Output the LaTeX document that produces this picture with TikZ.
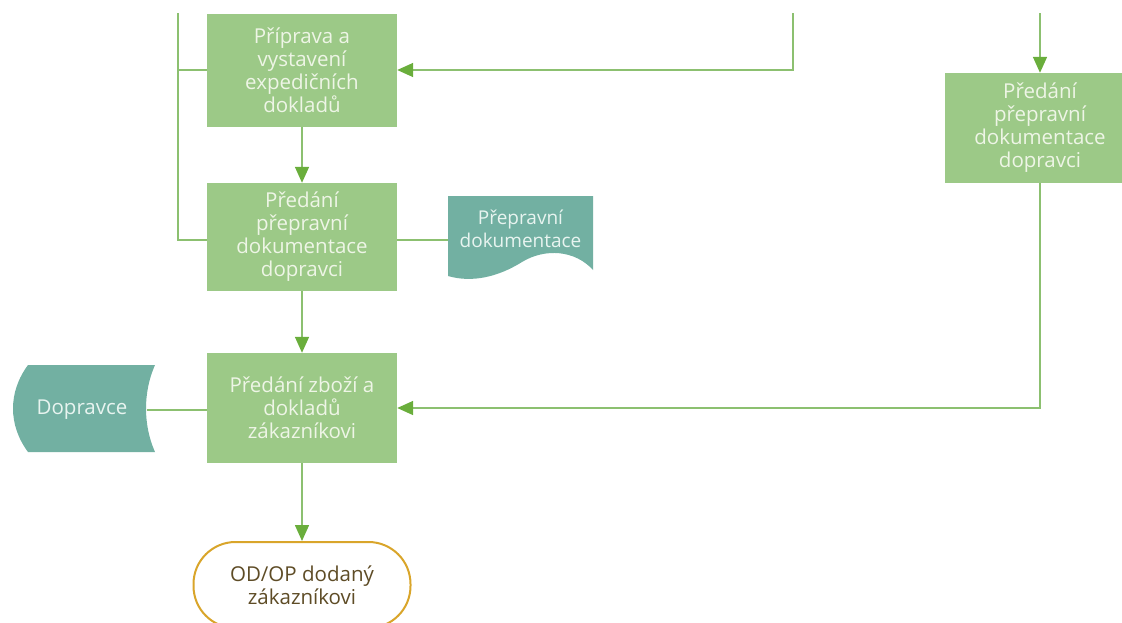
\documentclass[tikz,border=0pt]{standalone}
\usepackage{fontspec}
\setmainfont{Open Sans}
\usetikzlibrary{arrows.meta}
\definecolor{boxgreen}{HTML}{9CC987}
\definecolor{boxtext}{HTML}{EEF5E6}
\definecolor{linegreen}{HTML}{8CC070}
\definecolor{tipgreen}{HTML}{6AAE3C}
\definecolor{teal}{HTML}{72B0A2}
\definecolor{tealtext}{HTML}{E8F4F0}
\definecolor{gold}{HTML}{D9A52A}
\definecolor{termtext}{HTML}{5E4C26}
\tikzset{
  procbox/.style={rectangle, fill=boxgreen, text=boxtext, minimum width=190pt,
    align=center, inner sep=0pt,
    font=\fontsize{20.5pt}{23pt}\selectfont},
  link/.style={draw=linegreen, line width=1.6pt},
  flow/.style={link, -{Triangle[length=16pt,width=14pt,color=tipgreen]}},
  lbl/.style={align=center, font=\fontsize{20.5pt}{23pt}\selectfont}
}
\begin{document}
\begin{tikzpicture}[x=1pt,y=-1pt]
\useasboundingbox (0,0) rectangle (1122,622);
\clip (0,0) rectangle (1122,622);

% process steps
\node[procbox, minimum height=113pt] (b1) at (302,70.5)
  {Příprava a\\vystavení\\expedičních\\dokladů};
\node[procbox, minimum height=108pt] (b2) at (302,237)
  {Předání\\přepravní\\dokumentace\\dopravci};
\node[procbox, minimum height=110pt] (b3) at (302,408)
  {Předání zboží a\\dokladů\\zákazníkovi};
\node[procbox, minimum height=110pt] (r1) at (1040,128)
  {Předání\\přepravní\\dokumentace\\dopravci};

% document symbol
\fill[teal] (448,196) -- (593,196) -- (593,270)
  .. controls (575,250) and (545,248) .. (522,262)
  .. controls (498,277) and (472,283) .. (448,276) -- cycle;
\node[lbl, text=tealtext, font=\fontsize{19pt}{23pt}\selectfont] (doc) at (520.5,229)
  {Přepravní\\dokumentace};
\coordinate (docw) at (448,240);

% stored data symbol
\fill[teal] (28,365) -- (155,365)
  .. controls (143,392) and (143,425) .. (155,452)
  -- (28,452) .. controls (8,425) and (8,392) .. (28,365) -- cycle;
\node[lbl, text=tealtext] (carrier) at (82,410) {Dopravce};
\coordinate (carriere) at (147,410);

% terminator
\node[draw=gold, line width=2pt, fill=white, rounded corners=42pt,
  minimum width=217pt, minimum height=86pt, text=termtext, lbl] (end) at (302,585)
  {OD/OP dodaný\\zákazníkovi};

% connector coordinates
\coordinate (ltop) at (178,13);
\coordinate (lb1) at (178,70);
\coordinate (lb2) at (178,240);
\coordinate (mtop) at (793,13);
\coordinate (mturn) at (793,70);
\coordinate (rtop) at (1040,13);
\coordinate (rturn) at (1040,408);

% connectors
\draw[link] (ltop) -- (lb2) -- (b2.west |- lb2);
\draw[link] (lb1) -- (b1.west |- lb1);
\draw[flow] (mtop) -- (mturn) -- (b1.east |- mturn);
\draw[flow] (b1) -- (b2);
\draw[flow] (b2) -- (b3);
\draw[flow] (b3) -- (end);
\draw[link] (b2.east |- docw) -- (docw);
\draw[link] (carriere) -- (b3.west |- carriere);
\draw[flow] (rtop) -- (r1.north);
\draw[flow] (r1.south) -- (rturn) -- (b3.east |- rturn);
\end{tikzpicture}
\end{document}
